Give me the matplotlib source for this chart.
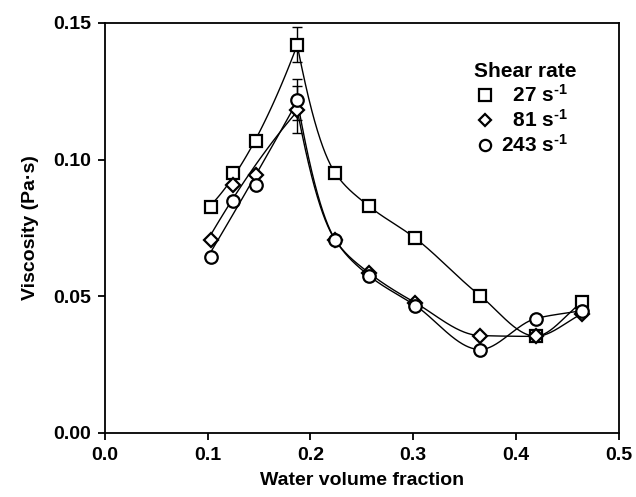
import numpy as np
import matplotlib
matplotlib.use("Agg")
import matplotlib.pyplot as plt

plt.rcParams['font.family'] = ['Liberation Sans', 'DejaVu Sans']
plt.rcParams['font.weight'] = 'bold'
plt.rcParams['mathtext.fontset'] = 'custom'
plt.rcParams['mathtext.rm'] = 'Liberation Sans:bold'
plt.rcParams['mathtext.default'] = 'rm'

water_fraction = [0.103, 0.125, 0.147, 0.187, 0.224, 0.257, 0.302, 0.365, 0.419, 0.464]
visc_27 = [0.0828, 0.0951, 0.1066, 0.1420, 0.0951, 0.0829, 0.0712, 0.0502, 0.0354, 0.0478]
visc_81 = [0.0707, 0.0908, 0.0945, 0.1183, 0.0706, 0.0585, 0.0476, 0.0356, 0.0353, 0.0435]
visc_243 = [0.0644, 0.0850, 0.0908, 0.1219, 0.0707, 0.0575, 0.0466, 0.0305, 0.0418, 0.0447]
err_27 = [0, 0, 0, 0.0065, 0, 0, 0, 0, 0, 0]
err_81 = [0, 0, 0, 0.0085, 0, 0, 0, 0, 0, 0]
err_243 = [0, 0, 0, 0.0075, 0, 0, 0, 0, 0, 0]
labels = ['  27 s$^{\u2010 1}$', '  81 s$^{\u2010 1}$', '243 s$^{\u2010 1}$']
markers = ['s', 'D', 'o']
peak_index = 3


def pchip(xd, yd, xq):
    """Monotone piecewise cubic Hermite interpolation (Fritsch-Carlson)."""
    xd = np.asarray(xd, float); yd = np.asarray(yd, float)
    hk = np.diff(xd); dk = np.diff(yd) / hk
    n = len(xd)
    m = np.zeros(n)
    for k in range(1, n - 1):
        if dk[k - 1] * dk[k] > 0:
            w1 = 2 * hk[k] + hk[k - 1]
            w2 = hk[k] + 2 * hk[k - 1]
            m[k] = (w1 + w2) / (w1 / dk[k - 1] + w2 / dk[k])
    m[0] = dk[0]; m[-1] = dk[-1]
    i = np.clip(np.searchsorted(xd, xq) - 1, 0, n - 2)
    t = (xq - xd[i]) / hk[i]
    h00 = 2 * t ** 3 - 3 * t ** 2 + 1
    h10 = t ** 3 - 2 * t ** 2 + t
    h01 = -2 * t ** 3 + 3 * t ** 2
    h11 = t ** 3 - t ** 2
    return h00 * yd[i] + h10 * hk[i] * m[i] + h01 * yd[i + 1] + h11 * hk[i] * m[i + 1]


def warp(xv):
    return xv + 0.04 * np.log(xv - 0.17)


fig = plt.figure(figsize=(6.36, 4.97), dpi=100)
ax = fig.add_axes([0.165, 0.129, 0.808, 0.825])

x = np.array(water_fraction)
handles = []
for y, e, m, lab in zip([visc_27, visc_81, visc_243], [err_27, err_81, err_243], markers, labels):
    y = np.array(y)
    # left branch fit
    xl = x[:peak_index + 1]; yl = y[:peak_index + 1]
    pl = np.polyfit(xl, yl, 2)
    xs = np.linspace(xl[0], xl[-1], 100)
    ax.plot(xs, np.polyval(pl, xs), color='black', lw=1.0, zorder=2)
    # right branch: monotone cubic through the points in a warped abscissa
    xr = x[peak_index:]; yr = y[peak_index:]
    xq = np.linspace(xr[0], xr[-1], 800)
    ax.plot(xq, pchip(warp(xr), yr, warp(xq)), color='black', lw=1.0, zorder=2)
    # error bars
    e = np.array(e)
    mask = e > 0
    ax.errorbar(x[mask], y[mask], yerr=e[mask], fmt='none', ecolor='black',
                elinewidth=1.0, capsize=3.5, capthick=1.0, zorder=2)
    ms = 9 if m != 'D' else 7
    h, = ax.plot(x, y, linestyle='none', marker=m, markersize=ms, markerfacecolor='white',
                 markeredgecolor='black', markeredgewidth=1.6, zorder=3, label=lab)
    handles.append(h)

ax.set_xlim(0, 0.5)
ax.set_ylim(0, 0.15)
ax.set_xticks([0.0, 0.1, 0.2, 0.3, 0.4, 0.5])
ax.set_xticklabels(['0.0', '0.1', '0.2', '0.3', '0.4', '0.5'])
ax.set_yticks([0.00, 0.05, 0.10, 0.15])
ax.set_yticklabels(['0.00', '0.05', '0.10', '0.15'])
ax.tick_params(direction='out', length=5, width=1.3, labelsize=14, pad=5)
for s in ax.spines.values():
    s.set_linewidth(1.3)
ax.set_xlabel('Water volume fraction', fontsize=14, fontweight='bold', labelpad=6)
ax.set_ylabel('Viscosity (Pa·s)', fontsize=14, fontweight='bold', labelpad=10)

leg = ax.legend(handles=handles, title='Shear rate', loc='upper left',
                bbox_to_anchor=(0.69, 0.94), frameon=False, fontsize=15,
                title_fontproperties={'size': 15, 'weight': 'bold'},
                handlelength=1.0, handletextpad=0.3, labelspacing=0.15,
                borderpad=0.2, markerscale=0.9)
leg._legend_box.align = 'left'

fig.savefig('out.png', dpi=100)
